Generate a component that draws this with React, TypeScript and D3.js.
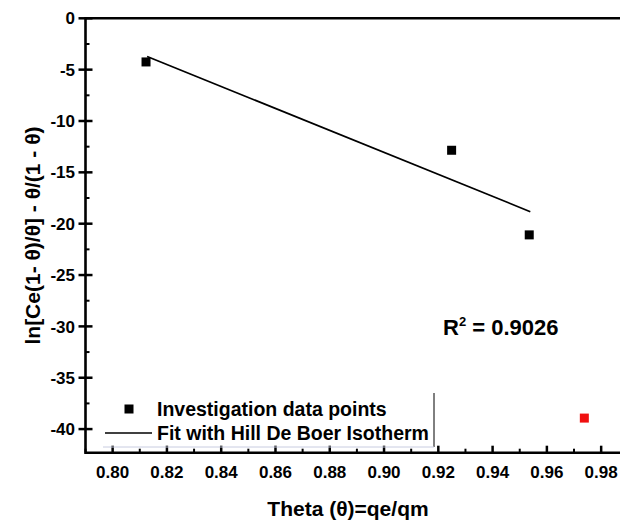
import React from "react";
import * as d3 from "d3";

const pointX = [0.8123, 0.9249, 0.9535];
const pointY = [-4.25, -12.85, -21.09];
const outlierX = [0.9738];
const outlierY = [-38.93];
const fitX = [0.8127, 0.9539];
const fitY = [-3.72, -18.83];
const xTicks = [0.8, 0.82, 0.84, 0.86, 0.88, 0.9, 0.92, 0.94, 0.96, 0.98];
const xMinor = [0.79, 0.81, 0.83, 0.85, 0.87, 0.89, 0.91, 0.93, 0.95, 0.97, 0.99];
const yTicks = [0, -5, -10, -15, -20, -25, -30, -35, -40];
const yMinor = [-2.5, -7.5, -12.5, -17.5, -22.5, -27.5, -32.5, -37.5];
const legendLabels = ["Investigation data points", "Fit with Hill De Boer Isotherm"];

const W = 620;
const H = 521;
const FONT = "'Liberation Sans', Arial, sans-serif";

export default function App() {
  const x = d3.scaleLinear().domain([0.79, 0.99]).range([85.5, 628.3]);
  const y = d3.scaleLinear().domain([-42.3, 0]).range([452.7, 18.3]);
  const line = d3
    .line<number>()
    .x((_, i) => x(fitX[i]))
    .y((d) => y(d));
  const x0 = x.range()[0];
  const y0 = y.range()[0];
  const yTop = y.range()[1];
  const ms = 9;

  return (
    <svg
      width={W}
      height={H}
      style={{ position: "absolute", left: 0, top: 0, background: "#fff" }}
      fontFamily={FONT}
    >
      <rect x={0} y={0} width={W} height={H} fill="#fff" />
      {/* frame */}
      <path
        d={`M${W + 10},${yTop} H${x0} V${y0} H${W + 10}`}
        fill="none"
        stroke="#000"
        strokeWidth={2.6}
      />
      {/* x ticks */}
      {xTicks.map((t) => (
        <g key={"xt" + t}>
          <line x1={x(t)} x2={x(t)} y1={y0} y2={y0 - 7} stroke="#000" strokeWidth={2.5} />
          <text
            x={x(t)}
            y={478}
            textAnchor="middle"
            fontSize={17}
            fontWeight="bold"
            fill="#000"
          >
            {t.toFixed(2)}
          </text>
        </g>
      ))}
      {xMinor.map((t) => (
        <line key={"xm" + t} x1={x(t)} x2={x(t)} y1={y0} y2={y0 - 4} stroke="#000" strokeWidth={2} />
      ))}
      {/* y ticks */}
      {yTicks.map((t) => (
        <g key={"yt" + t}>
          <line x1={x0 - 7} x2={x0 + 7} y1={y(t)} y2={y(t)} stroke="#000" strokeWidth={2.5} />
          <text
            x={75}
            y={y(t)}
            dy="0.36em"
            textAnchor="end"
            fontSize={17}
            fontWeight="bold"
            fill="#000"
          >
            {t}
          </text>
        </g>
      ))}
      {yMinor.map((t) => (
        <line key={"ym" + t} x1={x0} x2={x0 + 4} y1={y(t)} y2={y(t)} stroke="#000" strokeWidth={2} />
      ))}
      {/* fit line */}
      <path d={line(fitY) || ""} fill="none" stroke="#000" strokeWidth={1.7} />
      {/* points */}
      {pointX.map((px, i) => (
        <rect
          key={"p" + i}
          x={x(px) - ms / 2}
          y={y(pointY[i]) - ms / 2}
          width={ms}
          height={ms}
          fill="#000"
        />
      ))}
      {outlierX.map((px, i) => (
        <rect
          key={"o" + i}
          x={x(px) - ms / 2}
          y={y(outlierY[i]) - ms / 2}
          width={ms}
          height={ms}
          fill="#f01010"
        />
      ))}
      {/* R2 */}
      <text x={443} y={335} fontSize={22} fontWeight="bold" fill="#000">
        R
        <tspan fontSize={13} dy={-9}>2</tspan>
        <tspan dy={9}> = 0.9026</tspan>
      </text>
      {/* legend */}
      <line x1={434} x2={434} y1={393} y2={447} stroke="#000" strokeWidth={1} />
      <line x1={103} x2={434} y1={447} y2={447} stroke="#c8cce0" strokeWidth={1} />
      <rect x={129 - 4.5} y={409 - 4.5} width={9} height={9} fill="#000" />
      <text x={157} y={415.5} fontSize={19.5} fontWeight="bold" fill="#000">
        {legendLabels[0]}
      </text>
      <line x1={105} x2={152} y1={433} y2={433} stroke="#000" strokeWidth={1.6} />
      <text x={157} y={439.5} fontSize={19.5} fontWeight="bold" fill="#000">
        {legendLabels[1]}
      </text>
      {/* axis titles */}
      <text x={348} y={516} textAnchor="middle" fontSize={21} fontWeight="bold" fill="#000">
        Theta (θ)=qe/qm
      </text>
      <text
        transform={`translate(40,${(yTop + y0) / 2}) rotate(-90)`}
        textAnchor="middle"
        fontSize={21}
        fontWeight="bold"
        fill="#000"
      >
        ln[Ce(1- θ)/θ] - θ/(1 - θ)
      </text>
    </svg>
  );
}
